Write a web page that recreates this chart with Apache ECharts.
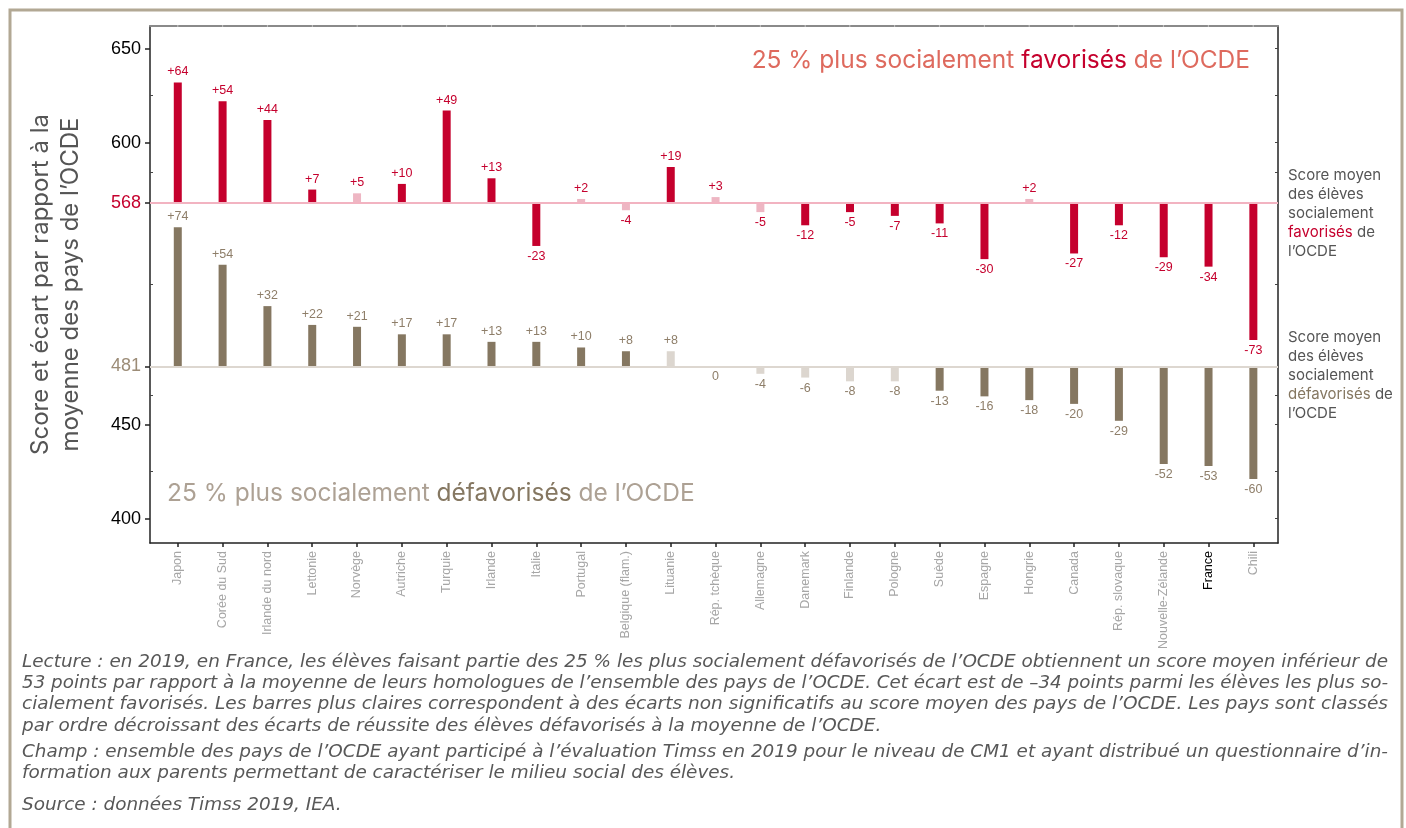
<!DOCTYPE html>
<html>
<head>
<meta charset="utf-8">
<script src="https://cdn.jsdelivr.net/npm/echarts@6/dist/echarts.min.js"></script>
<style>
  html, body { margin: 0; padding: 0; background: #fff; }
  #chart { width: 1406px; height: 828px; }
</style>
</head>
<body>
<div id="chart"></div>
<script>
// données
const countries = ['Japon', 'Corée du Sud', 'Irlande du nord', 'Lettonie', 'Norvège', 'Autriche', 'Turquie', 'Irlande',
  'Italie', 'Portugal', 'Belgique (flam.)', 'Lituanie', 'Rép. tchèque', 'Allemagne', 'Danemark', 'Finlande', 'Pologne',
  'Suède', 'Espagne', 'Hongrie', 'Canada', 'Rép. slovaque', 'Nouvelle-Zélande', 'France', 'Chili'];
const favGap = [64, 54, 44, 7, 5, 10, 49, 13, -23, 2, -4, 19, 3, -5, -12, -5, -7, -11, -30, 2, -27, -12, -29, -34, -73];
const favSig = [1, 1, 1, 1, 0, 1, 1, 1, 1, 0, 0, 1, 0, 0, 1, 1, 1, 1, 1, 0, 1, 1, 1, 1, 1];
const disGap = [74, 54, 32, 22, 21, 17, 17, 13, 13, 10, 8, 8, 0, -4, -6, -8, -8, -13, -16, -18, -20, -29, -52, -53, -60];
const disSig = [1, 1, 1, 1, 1, 1, 1, 1, 1, 1, 1, 0, 0, 0, 0, 0, 0, 1, 1, 1, 1, 1, 1, 1, 1];
const favMean = 568;
const disMean = 481;
const yTicks = [400, 450, 481, 568, 600, 650];
const yMinorTicks = [425, 465.5, 524.5, 584, 625];

const notes = [
  'Lecture : en 2019, en France, les élèves faisant partie des 25 % les plus socialement défavorisés de l’OCDE obtiennent un score moyen inférieur de',
  '53 points par rapport à la moyenne de leurs homologues de l’ensemble des pays de l’OCDE. Cet écart est de –34 points parmi les élèves les plus so-',
  'cialement favorisés. Les barres plus claires correspondent à des écarts non significatifs au score moyen des pays de l’OCDE. Les pays sont classés',
  'par ordre décroissant des écarts de réussite des élèves défavorisés à la moyenne de l’OCDE.',
  'Champ : ensemble des pays de l’OCDE ayant participé à l’évaluation Timss en 2019 pour le niveau de CM1 et ayant distribué un questionnaire d’in-',
  'formation aux parents permettant de caractériser le milieu social des élèves.',
  'Source : données Timss 2019, IEA.'
];
const noteY = [663, 684, 705, 727, 753, 774, 806];
const noteJustified = [1, 1, 1, 0, 1, 0, 0];

const RED = '#C5002D', PINK = '#EEB6C3';
const BROWN = '#857761', BEIGE = '#DCD6CF';
const SANS = 'Liberation Sans, Arial, sans-serif';
const UI = 'Inter, sans-serif';
const NOTE_FONT = 'italic 17px "DejaVu Sans"';

const fmtGap = d => (d > 0 ? '+' + d : String(d));
const idx = countries.map((c, i) => i);

// écart dessiné à partir de la moyenne OCDE du groupe
const gapRenderer = (dark, light, labelColor) => (params, api) => {
  const i = api.value(0), base = api.value(1), d = api.value(2), sig = api.value(3);
  const p0 = api.coord([i, base]);
  const p1 = api.coord([i, base + d]);
  const top = Math.min(p0[1], p1[1]);
  const h = Math.abs(p1[1] - p0[1]);
  return {
    type: 'group',
    children: [
      { type: 'rect', shape: { x: p0[0] - 4, y: top, width: 8, height: h }, style: { fill: sig ? dark : light } },
      {
        type: 'text', x: p0[0], y: d > 0 ? top - 4 : top + h + 4,
        style: {
          text: fmtGap(d), align: 'center', verticalAlign: d > 0 ? 'bottom' : 'top',
          fontSize: 12.5, fontFamily: SANS, fill: labelColor
        }
      }
    ]
  };
};

// largeur des lignes de note (texte justifié dans l'original)
const ctx = document.createElement('canvas').getContext('2d');
ctx.font = NOTE_FONT;
const scales = notes.map(t => 1366 / ctx.measureText(t).width);
const jScales = scales.filter((s, i) => noteJustified[i]);
const meanScale = jScales.reduce((a, b) => a + b, 0) / jScales.length;

const chart = echarts.init(document.getElementById('chart'));

const graphic = [
  { type: 'rect', shape: { x: 10, y: 10, width: 1392, height: 840 }, style: { fill: 'none', stroke: '#B2A894', lineWidth: 3 }, z: 0 },
  {
    type: 'text', x: 1250, y: 61,
    style: {
      text: '{a|25 % plus socialement }{b|favorisés}{a| de l’OCDE}',
      align: 'right', verticalAlign: 'middle',
      rich: {
        a: { fontSize: 24.5, fontFamily: UI, fill: '#DE6A5E' },
        b: { fontSize: 24.5, fontFamily: UI, fill: RED }
      }
    }
  },
  {
    type: 'text', x: 167, y: 494,
    style: {
      text: '{a|25 % plus socialement }{b|défavorisés}{a| de l’OCDE}',
      align: 'left', verticalAlign: 'middle',
      rich: {
        a: { fontSize: 24.5, fontFamily: UI, fill: '#ADA194' },
        b: { fontSize: 24.5, fontFamily: UI, fill: BROWN }
      }
    }
  },
  {
    type: 'text', x: 1288, y: 166,
    style: {
      text: '{a|Score moyen}\n{a|des élèves}\n{a|socialement}\n{b|favorisés}{a| de}\n{a|l’OCDE}',
      rich: {
        a: { fontSize: 15, lineHeight: 19, fontFamily: UI, fill: '#555' },
        b: { fontSize: 15, lineHeight: 19, fontFamily: UI, fill: RED }
      }
    }
  },
  {
    type: 'text', x: 1288, y: 328,
    style: {
      text: '{a|Score moyen}\n{a|des élèves}\n{a|socialement}\n{b|défavorisés}{a| de}\n{a|l’OCDE}',
      rich: {
        a: { fontSize: 15, lineHeight: 19, fontFamily: UI, fill: '#555' },
        b: { fontSize: 15, lineHeight: 19, fontFamily: UI, fill: BROWN }
      }
    }
  }
];
notes.forEach((t, i) => graphic.push({
  type: 'text', x: 22, y: noteY[i], scaleX: noteJustified[i] ? scales[i] : meanScale,
  style: { text: t, verticalAlign: 'middle', font: NOTE_FONT, fill: '#585858' }
}));

const xCommon = { type: 'value', min: -0.62, max: 24.55 };
const yCommon = { type: 'value', min: 387, max: 662, splitLine: { show: false } };

const option = {
  animation: false,
  grid: { left: 150, right: 128, top: 26, bottom: 285 },
  xAxis: [
    Object.assign({}, xCommon, {
      position: 'bottom',
      axisLine: { show: true, onZero: false, lineStyle: { color: '#222', width: 1.5 } },
      axisTick: { show: true, length: 4, customValues: idx, lineStyle: { color: '#222', width: 1.5 } },
      axisLabel: {
        customValues: idx, rotate: 90, margin: 8, fontSize: 12.5,
        formatter: v => {
          const c = countries[Math.round(v)];
          return c === 'France' ? '{f|' + c + '}' : '{g|' + c + '}';
        },
        rich: {
          g: { fontSize: 12.5, fontFamily: SANS, color: '#A6A6A6' },
          f: { fontSize: 12.5, fontFamily: SANS, color: '#000' }
        }
      },
      splitLine: { show: false }
    }),
    Object.assign({}, xCommon, {
      position: 'top',
      axisLine: { show: true, onZero: false, lineStyle: { color: '#8A8A8A', width: 2, type: [42.8, 2], dashOffset: 15.9 } },
      axisTick: { show: false }, axisLabel: { show: false }, splitLine: { show: false }
    })
  ],
  yAxis: [
    Object.assign({}, yCommon, {
      position: 'left',
      name: 'Score et écart par rapport à la\nmoyenne des pays de l’OCDE',
      nameLocation: 'middle', nameGap: 64, nameRotate: 90,
      nameTextStyle: { fontSize: 24, lineHeight: 30, fontFamily: UI, color: '#555' },
      axisLine: { show: true, onZero: false, lineStyle: { color: '#222', width: 1.5 } },
      axisTick: { show: true, length: 5, customValues: yTicks, lineStyle: { color: '#222', width: 1.5 } },
      axisLabel: {
        customValues: yTicks, margin: 9, fontSize: 18, fontFamily: SANS,
        formatter: v => v === favMean ? '{r|' + v + '}' : v === disMean ? '{b|' + v + '}' : '{k|' + v + '}',
        rich: {
          r: { fontSize: 18, fontFamily: SANS, color: RED },
          b: { fontSize: 18, fontFamily: SANS, color: '#9C8C77' },
          k: { fontSize: 18, fontFamily: SANS, color: '#000' }
        }
      }
    }),
    Object.assign({}, yCommon, {
      position: 'left',
      axisLine: { show: false, onZero: false },
      axisTick: { show: true, inside: true, length: 3, customValues: yMinorTicks, lineStyle: { color: '#444' } },
      axisLabel: { show: false }
    }),
    Object.assign({}, yCommon, {
      position: 'right',
      axisLine: { show: true, onZero: false, lineStyle: { color: '#222', width: 1.5 } },
      axisTick: { show: true, inside: true, length: 3, customValues: yTicks.concat(yMinorTicks), lineStyle: { color: '#444' } },
      axisLabel: { show: false }
    })
  ],
  series: [
    {
      type: 'line', data: [], silent: true,
      markLine: {
        silent: true, symbol: 'none', label: { show: false },
        data: [
          { yAxis: favMean, lineStyle: { color: '#F2B3C1', width: 2, type: 'solid' } },
          { yAxis: disMean, lineStyle: { color: '#DDD7D0', width: 2, type: 'solid' } }
        ]
      }
    },
    {
      type: 'custom', name: 'favorisés', z: 3,
      renderItem: gapRenderer(RED, PINK, RED),
      encode: { x: 0, y: 1 },
      data: favGap.map((d, i) => [i, favMean, d, favSig[i]])
    },
    {
      type: 'custom', name: 'défavorisés', z: 3,
      renderItem: gapRenderer(BROWN, BEIGE, '#8E7E69'),
      encode: { x: 0, y: 1 },
      data: disGap.map((d, i) => [i, disMean, d, disSig[i]])
    }
  ],
  graphic: graphic
};

chart.setOption(option);
window.addEventListener('resize', () => chart.resize());
</script>
</body>
</html>
